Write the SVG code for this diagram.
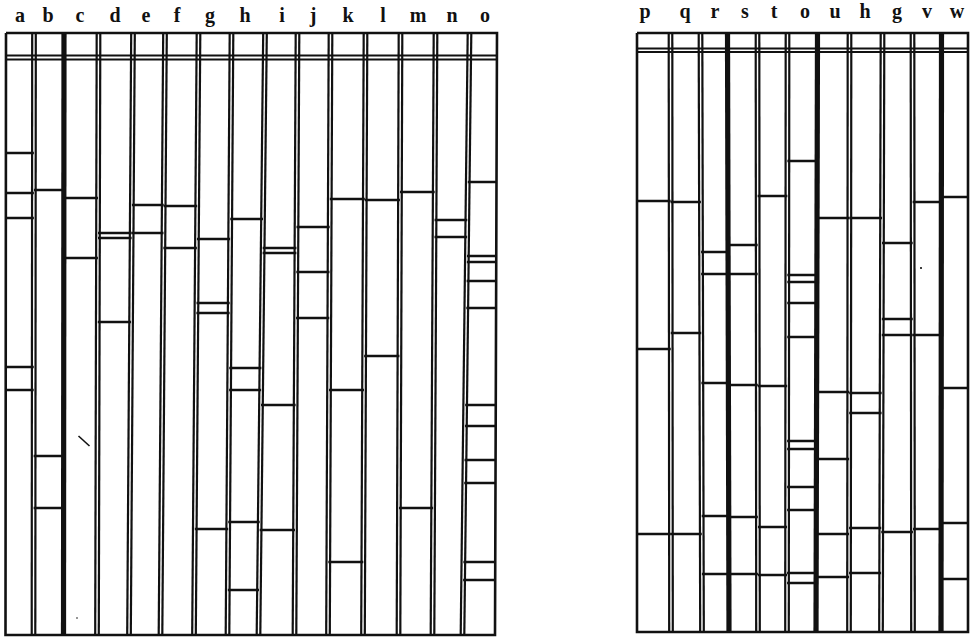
<svg xmlns="http://www.w3.org/2000/svg" width="970" height="639" viewBox="0 0 970 639">
<style>
.lbl{font-family:"Liberation Serif","DejaVu Serif",serif;font-size:20px;font-weight:bold;fill:#111;text-anchor:middle}
.band{stroke:#111;stroke-width:2.5;fill:none}
.dl{stroke:#111;stroke-width:2.2;fill:none}
.ds{stroke:#111;stroke-width:5.2;fill:none}
.frame{stroke:#111;stroke-width:2.6;fill:none}
.hd{stroke:#111;stroke-width:2.2;fill:none}
</style>
<defs>
<clipPath id="c-a"><polygon points="6,33 34,33 33.5,635 5.5,635"/></clipPath>
<clipPath id="c-b"><polygon points="34,33 64,33 63.5,635 33.5,635"/></clipPath>
<clipPath id="c-c"><polygon points="64,33 98.5,33 97,635 63.5,635"/></clipPath>
<clipPath id="c-d"><polygon points="98.5,33 133,33 129,635 97,635"/></clipPath>
<clipPath id="c-e"><polygon points="133,33 165,33 160.5,635 129,635"/></clipPath>
<clipPath id="c-f"><polygon points="165,33 198.5,33 194,635 160.5,635"/></clipPath>
<clipPath id="c-g"><polygon points="198.5,33 231.5,33 227.5,635 194,635"/></clipPath>
<clipPath id="c-h"><polygon points="231.5,33 265,33 258.5,635 227.5,635"/></clipPath>
<clipPath id="c-i"><polygon points="265,33 297.5,33 294.5,635 258.5,635"/></clipPath>
<clipPath id="c-j"><polygon points="297.5,33 330.5,33 328,635 294.5,635"/></clipPath>
<clipPath id="c-k"><polygon points="330.5,33 365.5,33 363,635 328,635"/></clipPath>
<clipPath id="c-l"><polygon points="365.5,33 400.5,33 398.5,635 363,635"/></clipPath>
<clipPath id="c-m"><polygon points="400.5,33 435.5,33 432.5,635 398.5,635"/></clipPath>
<clipPath id="c-n"><polygon points="435.5,33 469.5,33 462.5,635 432.5,635"/></clipPath>
<clipPath id="c-o"><polygon points="469.5,33 497,33 495,635 462.5,635"/></clipPath>
<clipPath id="c-p"><polygon points="637,33 670.5,33 671,632 637,632"/></clipPath>
<clipPath id="c-q"><polygon points="670.5,33 700.5,33 702,632 671,632"/></clipPath>
<clipPath id="c-r"><polygon points="700.5,33 727.5,33 729,632 702,632"/></clipPath>
<clipPath id="c-s"><polygon points="727.5,33 757.5,33 758,632 729,632"/></clipPath>
<clipPath id="c-t"><polygon points="757.5,33 787.5,33 787,632 758,632"/></clipPath>
<clipPath id="c-o2"><polygon points="787.5,33 817.5,33 816,632 787,632"/></clipPath>
<clipPath id="c-u"><polygon points="817.5,33 849.5,33 849,632 816,632"/></clipPath>
<clipPath id="c-h2"><polygon points="849.5,33 882.5,33 881,632 849,632"/></clipPath>
<clipPath id="c-g2"><polygon points="882.5,33 912.5,33 913,632 881,632"/></clipPath>
<clipPath id="c-v"><polygon points="912.5,33 941.5,33 941,632 913,632"/></clipPath>
<clipPath id="c-w"><polygon points="941.5,33 968,33 968,632 941,632"/></clipPath>
</defs>
<rect x="0" y="0" width="970" height="639" fill="#fff"/>

<g id="labels-left">
<text class="lbl" x="20" y="22">a</text>
<text class="lbl" x="48" y="22">b</text>
<text class="lbl" x="80" y="22">c</text>
<text class="lbl" x="115" y="22">d</text>
<text class="lbl" x="146" y="22">e</text>
<text class="lbl" x="177" y="22">f</text>
<text class="lbl" x="210" y="22">g</text>
<text class="lbl" x="245" y="22">h</text>
<text class="lbl" x="282" y="22">i</text>
<text class="lbl" x="313" y="22">j</text>
<text class="lbl" x="348" y="22">k</text>
<text class="lbl" x="383" y="22">l</text>
<text class="lbl" x="418" y="22">m</text>
<text class="lbl" x="452" y="22">n</text>
<text class="lbl" x="485" y="22">o</text>
</g>
<g id="labels-right">
<text class="lbl" x="645" y="18">p</text>
<text class="lbl" x="685" y="18">q</text>
<text class="lbl" x="715" y="18">r</text>
<text class="lbl" x="745" y="18">s</text>
<text class="lbl" x="774" y="18">t</text>
<text class="lbl" x="805" y="18">o</text>
<text class="lbl" x="835" y="18">u</text>
<text class="lbl" x="865" y="18">h</text>
<text class="lbl" x="897" y="18">g</text>
<text class="lbl" x="927" y="18">v</text>
<text class="lbl" x="957" y="18">w</text>
</g>

<!-- left panel lanes -->
<g id="lane-a" clip-path="url(#c-a)">
<line class="band" x1="0" x2="40" y1="153" y2="153"/><line class="band" x1="0" x2="40" y1="193" y2="193"/><line class="band" x1="0" x2="40" y1="218" y2="218"/><line class="band" x1="0" x2="40" y1="367" y2="367"/><line class="band" x1="0" x2="40" y1="390" y2="390"/>
</g>
<g id="lane-b" clip-path="url(#c-b)">
<line class="band" x1="28" x2="70" y1="190" y2="190"/><line class="band" x1="28" x2="70" y1="456" y2="456"/><line class="band" x1="28" x2="70" y1="508" y2="508"/>
</g>
<g id="lane-c" clip-path="url(#c-c)">
<line class="band" x1="58" x2="104" y1="198" y2="198"/><line class="band" x1="58" x2="104" y1="258" y2="258"/>
<line x1="78.5" y1="436" x2="89.5" y2="446" stroke="#111" stroke-width="1.6"/>
<circle cx="77" cy="618" r="0.8" fill="#111"/>
</g>
<g id="lane-d" clip-path="url(#c-d)">
<line class="band" x1="90" x2="140" y1="233" y2="233"/><line class="band" x1="90" x2="140" y1="238" y2="238"/><line class="band" x1="90" x2="140" y1="322" y2="322"/>
</g>
<g id="lane-e" clip-path="url(#c-e)">
<line class="band" x1="122" x2="172" y1="205" y2="205"/><line class="band" x1="122" x2="172" y1="233" y2="233"/>
</g>
<g id="lane-f" clip-path="url(#c-f)">
<line class="band" x1="154" x2="205" y1="206" y2="206"/><line class="band" x1="154" x2="205" y1="248" y2="248"/>
</g>
<g id="lane-g" clip-path="url(#c-g)">
<line class="band" x1="188" x2="238" y1="239" y2="239"/><line class="band" x1="188" x2="238" y1="303" y2="303"/><line class="band" x1="188" x2="238" y1="313" y2="313"/><line class="band" x1="188" x2="238" y1="529" y2="529"/>
</g>
<g id="lane-h" clip-path="url(#c-h)">
<line class="band" x1="220" x2="272" y1="219" y2="219"/><line class="band" x1="220" x2="272" y1="368" y2="368"/><line class="band" x1="220" x2="272" y1="390" y2="390"/><line class="band" x1="220" x2="272" y1="522" y2="522"/><line class="band" x1="220" x2="272" y1="590" y2="590"/>
</g>
<g id="lane-i" clip-path="url(#c-i)">
<line class="band" x1="252" x2="304" y1="248" y2="248"/><line class="band" x1="252" x2="304" y1="253" y2="253"/><line class="band" x1="252" x2="304" y1="405" y2="405"/><line class="band" x1="252" x2="304" y1="530" y2="530"/>
</g>
<g id="lane-j" clip-path="url(#c-j)">
<line class="band" x1="288" x2="337" y1="227" y2="227"/><line class="band" x1="288" x2="337" y1="272" y2="272"/><line class="band" x1="288" x2="337" y1="318" y2="318"/>
</g>
<g id="lane-k" clip-path="url(#c-k)">
<line class="band" x1="322" x2="372" y1="199" y2="199"/><line class="band" x1="322" x2="372" y1="390" y2="390"/><line class="band" x1="322" x2="372" y1="562" y2="562"/>
</g>
<g id="lane-l" clip-path="url(#c-l)">
<line class="band" x1="357" x2="407" y1="200" y2="200"/><line class="band" x1="357" x2="407" y1="356" y2="356"/>
</g>
<g id="lane-m" clip-path="url(#c-m)">
<line class="band" x1="392" x2="442" y1="192" y2="192"/><line class="band" x1="392" x2="442" y1="508" y2="508"/>
</g>
<g id="lane-n" clip-path="url(#c-n)">
<line class="band" x1="426" x2="476" y1="220" y2="220"/><line class="band" x1="426" x2="476" y1="237" y2="237"/>
</g>
<g id="lane-o" clip-path="url(#c-o)">
<line class="band" x1="456" x2="503" y1="182" y2="182"/><line class="band" x1="456" x2="503" y1="256" y2="256"/><line class="band" x1="456" x2="503" y1="262" y2="262"/><line class="band" x1="456" x2="503" y1="281" y2="281"/><line class="band" x1="456" x2="503" y1="308" y2="308"/><line class="band" x1="456" x2="503" y1="405" y2="405"/><line class="band" x1="456" x2="503" y1="426" y2="426"/><line class="band" x1="456" x2="503" y1="460" y2="460"/><line class="band" x1="456" x2="503" y1="483" y2="483"/><line class="band" x1="456" x2="503" y1="562" y2="562"/><line class="band" x1="456" x2="503" y1="580" y2="580"/>
</g>

<!-- right panel lanes -->
<g id="lane-p" clip-path="url(#c-p)">
<line class="band" x1="630" x2="678" y1="201" y2="201"/><line class="band" x1="630" x2="678" y1="349" y2="349"/><line class="band" x1="630" x2="678" y1="534" y2="534"/>
</g>
<g id="lane-q" clip-path="url(#c-q)">
<line class="band" x1="664" x2="708" y1="202" y2="202"/><line class="band" x1="664" x2="708" y1="333" y2="333"/><line class="band" x1="664" x2="708" y1="534" y2="534"/>
</g>
<g id="lane-r" clip-path="url(#c-r)">
<line class="band" x1="694" x2="735" y1="252" y2="252"/><line class="band" x1="694" x2="735" y1="274" y2="274"/><line class="band" x1="694" x2="735" y1="383" y2="383"/><line class="band" x1="694" x2="735" y1="516" y2="516"/><line class="band" x1="694" x2="735" y1="574" y2="574"/>
</g>
<g id="lane-s" clip-path="url(#c-s)">
<line class="band" x1="721" x2="765" y1="245" y2="245"/><line class="band" x1="721" x2="765" y1="274" y2="274"/><line class="band" x1="721" x2="765" y1="385" y2="385"/><line class="band" x1="721" x2="765" y1="517" y2="517"/><line class="band" x1="721" x2="765" y1="574" y2="574"/>
</g>
<g id="lane-t" clip-path="url(#c-t)">
<line class="band" x1="751" x2="794" y1="196" y2="196"/><line class="band" x1="751" x2="794" y1="386" y2="386"/><line class="band" x1="751" x2="794" y1="527" y2="527"/><line class="band" x1="751" x2="794" y1="575" y2="575"/>
</g>
<g id="lane-o2" clip-path="url(#c-o2)">
<line class="band" x1="780" x2="824" y1="161" y2="161"/><line class="band" x1="780" x2="824" y1="275" y2="275"/><line class="band" x1="780" x2="824" y1="282" y2="282"/><line class="band" x1="780" x2="824" y1="303" y2="303"/><line class="band" x1="780" x2="824" y1="337" y2="337"/><line class="band" x1="780" x2="824" y1="441" y2="441"/><line class="band" x1="780" x2="824" y1="449" y2="449"/><line class="band" x1="780" x2="824" y1="487" y2="487"/><line class="band" x1="780" x2="824" y1="510" y2="510"/><line class="band" x1="780" x2="824" y1="573" y2="573"/><line class="band" x1="780" x2="824" y1="583" y2="583"/>
</g>
<g id="lane-u" clip-path="url(#c-u)">
<line class="band" x1="810" x2="856" y1="218" y2="218"/><line class="band" x1="810" x2="856" y1="392" y2="392"/><line class="band" x1="810" x2="856" y1="459" y2="459"/><line class="band" x1="810" x2="856" y1="534" y2="534"/><line class="band" x1="810" x2="856" y1="577" y2="577"/>
</g>
<g id="lane-h2" clip-path="url(#c-h2)">
<line class="band" x1="842" x2="889" y1="218" y2="218"/><line class="band" x1="842" x2="889" y1="393" y2="393"/><line class="band" x1="842" x2="889" y1="413" y2="413"/><line class="band" x1="842" x2="889" y1="528" y2="528"/><line class="band" x1="842" x2="889" y1="573" y2="573"/>
</g>
<g id="lane-g2" clip-path="url(#c-g2)">
<line class="band" x1="875" x2="919" y1="243" y2="243"/><line class="band" x1="875" x2="919" y1="319" y2="319"/><line class="band" x1="875" x2="919" y1="335" y2="335"/><line class="band" x1="875" x2="919" y1="532" y2="532"/>
</g>
<g id="lane-v" clip-path="url(#c-v)">
<line class="band" x1="906" x2="948" y1="202" y2="202"/><line class="band" x1="906" x2="948" y1="335" y2="335"/><line class="band" x1="906" x2="948" y1="529" y2="529"/>
<circle cx="921" cy="268" r="1.1" fill="#111"/>
</g>
<g id="lane-w" clip-path="url(#c-w)">
<line class="band" x1="934" x2="975" y1="197" y2="197"/><line class="band" x1="934" x2="975" y1="388" y2="388"/><line class="band" x1="934" x2="975" y1="523" y2="523"/><line class="band" x1="934" x2="975" y1="579" y2="579"/>
</g>

<!-- header lines -->
<g id="headers">
<line class="hd" x1="6" x2="497" y1="55.5" y2="55.5"/>
<line class="hd" x1="6" x2="497" y1="59.5" y2="59.5"/>
<line class="hd" x1="637" x2="968" y1="48.5" y2="48.5"/>
<line class="hd" x1="637" x2="968" y1="52" y2="52"/>
</g>

<!-- dividers and frames -->
<g id="dividers">
<line class="dl" x1="32.2" y1="33" x2="31.7" y2="635"/><line class="dl" x1="35.8" y1="33" x2="35.3" y2="635"/>
<line class="ds" x1="64" y1="33" x2="63.5" y2="635"/>
<line class="dl" x1="96.7" y1="33" x2="95.2" y2="635"/><line class="dl" x1="100.3" y1="33" x2="98.8" y2="635"/>
<line class="dl" x1="131.2" y1="33" x2="127.2" y2="635"/><line class="dl" x1="134.8" y1="33" x2="130.8" y2="635"/>
<line class="dl" x1="163.2" y1="33" x2="158.7" y2="635"/><line class="dl" x1="166.8" y1="33" x2="162.3" y2="635"/>
<line class="dl" x1="196.7" y1="33" x2="192.2" y2="635"/><line class="dl" x1="200.3" y1="33" x2="195.8" y2="635"/>
<line class="dl" x1="229.7" y1="33" x2="225.7" y2="635"/><line class="dl" x1="233.3" y1="33" x2="229.3" y2="635"/>
<line class="dl" x1="263.2" y1="33" x2="256.7" y2="635"/><line class="dl" x1="266.8" y1="33" x2="260.3" y2="635"/>
<line class="dl" x1="295.7" y1="33" x2="292.7" y2="635"/><line class="dl" x1="299.3" y1="33" x2="296.3" y2="635"/>
<line class="dl" x1="328.7" y1="33" x2="326.2" y2="635"/><line class="dl" x1="332.3" y1="33" x2="329.8" y2="635"/>
<line class="dl" x1="363.7" y1="33" x2="361.2" y2="635"/><line class="dl" x1="367.3" y1="33" x2="364.8" y2="635"/>
<line class="dl" x1="398.7" y1="33" x2="396.7" y2="635"/><line class="dl" x1="402.3" y1="33" x2="400.3" y2="635"/>
<line class="dl" x1="433.7" y1="33" x2="430.7" y2="635"/><line class="dl" x1="437.3" y1="33" x2="434.3" y2="635"/>
<line class="dl" x1="467.7" y1="33" x2="460.7" y2="635"/><line class="dl" x1="471.3" y1="33" x2="464.3" y2="635"/>
<polyline class="frame" points="6,33 497,33 495,635 5.5,635 6,33"/>

<line class="dl" x1="668.7" y1="33" x2="669.2" y2="632"/><line class="dl" x1="672.3" y1="33" x2="672.8" y2="632"/>
<line class="dl" x1="698.7" y1="33" x2="700.2" y2="632"/><line class="dl" x1="702.3" y1="33" x2="703.8" y2="632"/>
<line class="ds" x1="727.5" y1="33" x2="729" y2="632"/>
<line class="dl" x1="755.7" y1="33" x2="756.2" y2="632"/><line class="dl" x1="759.3" y1="33" x2="759.8" y2="632"/>
<line class="dl" x1="785.7" y1="33" x2="785.2" y2="632"/><line class="dl" x1="789.3" y1="33" x2="788.8" y2="632"/>
<line class="ds" x1="817.5" y1="33" x2="816" y2="632"/>
<line class="dl" x1="847.7" y1="33" x2="847.2" y2="632"/><line class="dl" x1="851.3" y1="33" x2="850.8" y2="632"/>
<line class="dl" x1="880.7" y1="33" x2="879.2" y2="632"/><line class="dl" x1="884.3" y1="33" x2="882.8" y2="632"/>
<line class="dl" x1="910.7" y1="33" x2="911.2" y2="632"/><line class="dl" x1="914.3" y1="33" x2="914.8" y2="632"/>
<line class="ds" x1="941.5" y1="33" x2="941" y2="632"/>
<polyline class="frame" points="637,33 968,33 968,632 637,632 637,33"/>
</g>
</svg>
